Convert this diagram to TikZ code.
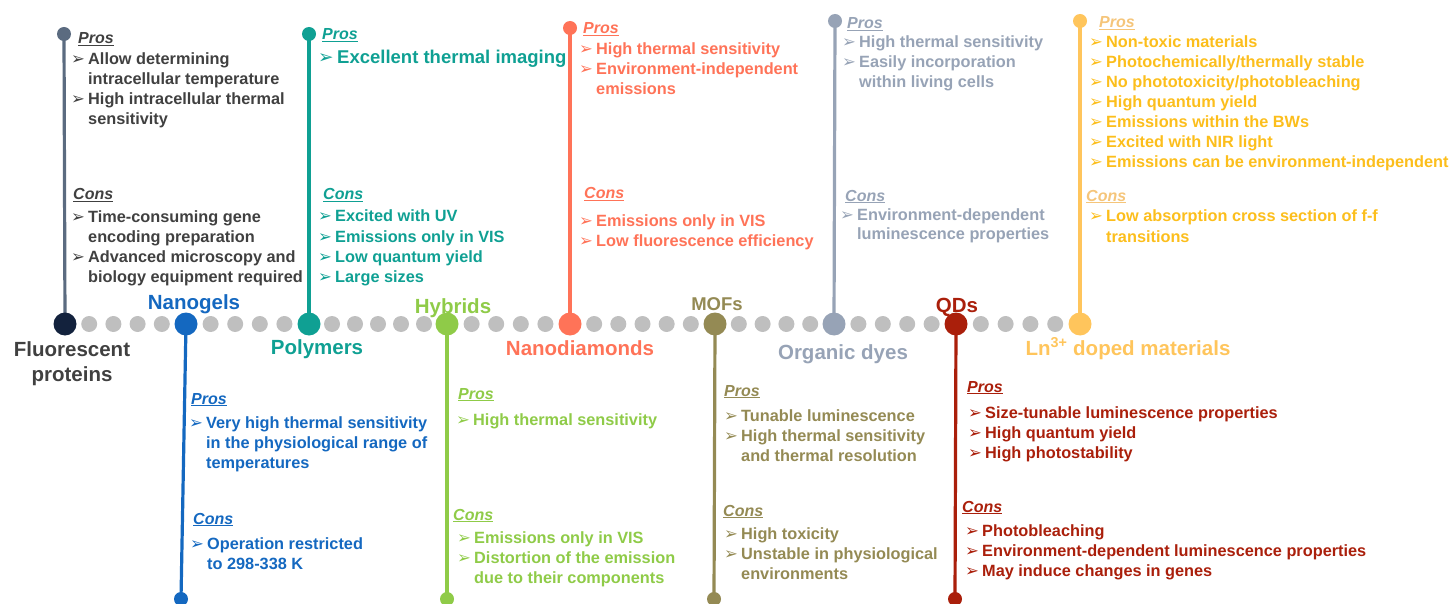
\documentclass[tikz,border=0pt]{standalone}
\usepackage{fontspec}
\setmainfont{Liberation Sans}
\newfontfamily\arrowfont{DejaVu Sans}

\definecolor{fpline}{HTML}{5B6B80}
\definecolor{fpdot}{HTML}{13223D}
\definecolor{fptext}{HTML}{404040}
\definecolor{gelc}{HTML}{1468C0}
\definecolor{polc}{HTML}{0FA093}
\definecolor{hybc}{HTML}{8FCB48}
\definecolor{ndc}{HTML}{FF7358}
\definecolor{mofc}{HTML}{948A54}
\definecolor{odc}{HTML}{97A3B6}
\definecolor{qdc}{HTML}{AA1F0B}
\definecolor{lnc}{HTML}{FFC55C}
\definecolor{lntext}{HTML}{FCBE1C}
\definecolor{lnhead}{HTML}{F5C57A}
\definecolor{dotgray}{HTML}{BFBFBF}

\newcommand\arr{\makebox[17pt][l]{\fontsize{16.5}{16.5}\selectfont\arrowfont ➢}}
\newcommand\indt{\hspace*{17pt}}
% one node per printed line, 20pt apart
\newcommand\itemlines[5]{%
  \foreach \t [count=\i from 0] in {#5}
    \node[txt, #3] (#4\i) at (#1, #2+20*\i) {\t};}

\tikzset{
  txt/.style={anchor=base west, inner sep=0pt, font=\fontsize{16.3}{20}\selectfont\bfseries},
  head/.style={txt, font=\fontsize{16}{20}\selectfont\bfseries\itshape},
  lbl/.style={anchor=base, inner sep=0pt, font=\fontsize{20.5}{24}\selectfont\bfseries},
  stem/.style={line width=3.2pt},
}

\begin{document}
\begin{tikzpicture}[x=1pt,y=-1pt]
\useasboundingbox (0,0) rectangle (1453,604);

\path   (65,324)   coordinate (fp)
        (186,324)  coordinate (gel)
        (309,324)  coordinate (pol)
        (447,324)  coordinate (hyb)
        (570,324)  coordinate (nd)
        (715,324)  coordinate (mof)
        (834,324)  coordinate (od)
        (956,324)  coordinate (qd)
        (1080,324) coordinate (ln)
        (64,34)    coordinate (fpT)
        (309,34)   coordinate (polT)
        (570,28)   coordinate (ndT)
        (835,21)   coordinate (odT)
        (1080,21)  coordinate (lnT)
        (181,599)  coordinate (gelB)
        (447,599)  coordinate (hybB)
        (714,599)  coordinate (mofB)
        (955,599)  coordinate (qdB);

% stems
\draw[stem, fpline] (fp) -- (fpT);
\draw[stem, polc] (pol) -- (polT);
\draw[stem, ndc] (nd) -- (ndT);
\draw[stem, odc] (od) -- (odT);
\draw[stem, lnc] (ln) -- (lnT);
\draw[stem, gelc] (gel) -- (gelB);
\draw[stem, hybc] (hyb) -- (hybB);
\draw[stem, mofc] (mof) -- (mofB);
\draw[stem, qdc] (qd) -- (qdB);

% grey dots of the time line
\foreach \a/\b/\n in {65/186/4, 186/309/4, 309/447/5, 447/570/4, 570/715/5, 715/834/4, 834/956/4, 956/1080/4}
  \foreach \k in {1,...,\n}
    \fill[dotgray] ({\a+(\b-\a)*\k/(\n+1)},324) circle (8pt);

% main dots
\foreach \p/\c in {fp/fpdot, gel/gelc, pol/polc, hyb/hybc, nd/ndc, mof/mofc, od/odc, qd/qdc, ln/lnc}
  \fill[\c] (\p) circle (11.5pt);
\foreach \p/\c in {fpT/fpline, polT/polc, ndT/ndc, odT/odc, lnT/lnc, gelB/gelc, hybB/hybc, mofB/mofc, qdB/qdc}
  \fill[\c] (\p) circle (7pt);

% labels
\node[lbl, fptext] (fpL1) at (72,356) {Fluorescent};
\node[lbl, fptext] (fpL2) at (72,381) {proteins};
\node[lbl, gelc] (gelL) at (194,309) {Nanogels};
\node[lbl, polc] (polL) at (317,354) {Polymers};
\node[lbl, hybc] (hybL) at (453,313) {Hybrids};
\node[lbl, ndc] (ndL) at (580,355) {Nanodiamonds};
\node[lbl, mofc, font=\fontsize{18.5}{22}\selectfont\bfseries] (mofL) at (717,310) {MOFs};
\node[lbl, odc] (odL) at (843,359) {Organic dyes};
\node[lbl, qdc] (qdL) at (957,312) {QDs};
\node[lbl, lnc] (lnL) at (1128,355) {Ln\textsuperscript{3+} doped materials};

% Fluorescent proteins
\node[head, fptext] (fpPros) at (78,44) {\underline{Pros}};
\itemlines{71}{64.5}{fptext}{fpp}{\arr Allow determining, \indt intracellular temperature, \arr High intracellular thermal, \indt sensitivity}
\node[head, fptext] (fpCons) at (73,200) {\underline{Cons}};
\itemlines{71}{222.5}{fptext}{fpc}{\arr Time-consuming gene, \indt encoding preparation, \arr Advanced microscopy and, \indt biology equipment required}

% Polymers
\node[head, polc] (polPros) at (322,40) {\underline{Pros}};
\node[txt, polc, font=\fontsize{18.5}{22}\selectfont\bfseries] (polp0) at (318,63.5)
  {\makebox[19pt][l]{\fontsize{18.5}{18.5}\selectfont\arrowfont ➢}Excellent thermal imaging};
\node[head, polc] (polCons) at (323,200) {\underline{Cons}};
\itemlines{318}{222}{polc}{polc}{\arr Excited with UV, \arr Emissions only in VIS, \arr Low quantum yield, \arr Large sizes}

% Nanodiamonds
\node[head, ndc] (ndPros) at (583,34) {\underline{Pros}};
\itemlines{579}{55}{ndc}{ndp}{\arr High thermal sensitivity, \arr Environment-independent, \indt emissions}
\node[head, ndc] (ndCons) at (584,199) {\underline{Cons}};
\itemlines{579}{226}{ndc}{ndc}{\arr Emissions only in VIS, \arr Low fluorescence efficiency}

% Organic dyes
\node[head, odc] (odPros) at (847,29) {\underline{Pros}};
\itemlines{842}{48}{odc}{odp}{\arr High thermal sensitivity, \arr Easily incorporation, \indt within living cells}
\node[head, odc] (odCons) at (845,201) {\underline{Cons}};
\itemlines{840}{220}{odc}{odc}{\arr Environment-dependent, \indt luminescence properties}

% Ln doped materials
\node[head, lnhead] (lnPros) at (1099,28) {\underline{Pros}};
\itemlines{1089}{47.5}{lntext}{lnp}{\arr Non-toxic materials, \arr Photochemically/thermally stable, \arr No phototoxicity/photobleaching, \arr High quantum yield, \arr Emissions within the BWs, \arr Excited with NIR light, \arr Emissions can be environment-independent}
\node[head, lnhead] (lnCons) at (1086,201) {\underline{Cons}};
\itemlines{1089}{222}{lntext}{lnc}{\arr Low absorption cross section of f-f, \indt transitions}

% Nanogels
\node[head, gelc] (gelPros) at (191,404) {\underline{Pros}};
\itemlines{189}{428}{gelc}{gelp}{\arr Very high thermal sensitivity, \indt in the physiological range of, \indt temperatures}
\node[head, gelc] (gelCons) at (193,524) {\underline{Cons}};
\itemlines{190}{549}{gelc}{gelc}{\arr Operation restricted, \indt to 298-338 K}

% Hybrids
\node[head, hybc] (hybPros) at (458,399) {\underline{Pros}};
\itemlines{456}{425}{hybc}{hybp}{\arr High thermal sensitivity}
\node[head, hybc] (hybCons) at (453,520) {\underline{Cons}};
\itemlines{457}{543}{hybc}{hybc}{\arr Emissions only in VIS, \arr Distortion of the emission, \indt due to their components}

% MOFs
\node[head, mofc] (mofPros) at (724,396) {\underline{Pros}};
\itemlines{724}{421}{mofc}{mofp}{\arr Tunable luminescence, \arr High thermal sensitivity, \indt and thermal resolution}
\node[head, mofc] (mofCons) at (723,516) {\underline{Cons}};
\itemlines{724}{539}{mofc}{mofc}{\arr High toxicity, \arr Unstable in physiological, \indt environments}

% QDs
\node[head, qdc] (qdPros) at (967,392) {\underline{Pros}};
\itemlines{968}{418}{qdc}{qdp}{\arr Size-tunable luminescence properties, \arr High quantum yield, \arr High photostability}
\node[head, qdc] (qdCons) at (962,512) {\underline{Cons}};
\itemlines{965}{536}{qdc}{qdc}{\arr Photobleaching, \arr Environment-dependent luminescence properties, \arr May induce changes in genes}

\end{tikzpicture}
\end{document}
